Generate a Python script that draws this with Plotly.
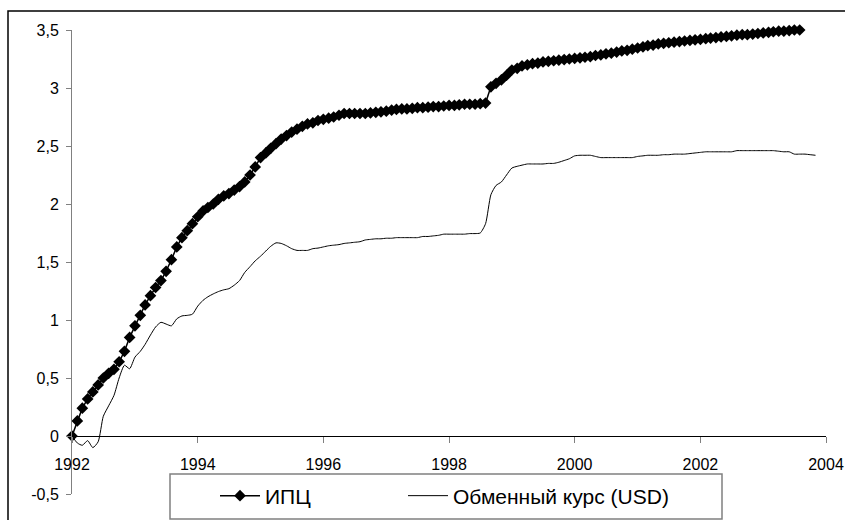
import pandas as pd
import plotly.graph_objects as go

# log-scale indices, monthly from Jan 1992
cpi = [0, 0.13, 0.24, 0.32, 0.38, 0.44, 0.50, 0.54, 0.575, 0.64, 0.73, 0.85,
       0.95, 1.04, 1.13, 1.21, 1.28, 1.34, 1.42, 1.52, 1.63, 1.71, 1.77, 1.83,
       1.89, 1.94, 1.97, 2.00, 2.04, 2.07, 2.09, 2.12, 2.15, 2.19, 2.25, 2.32,
       2.40, 2.44, 2.48, 2.52, 2.56, 2.59, 2.62, 2.645, 2.67, 2.69, 2.70, 2.72,
       2.73, 2.74, 2.75, 2.765, 2.78, 2.78, 2.78, 2.78, 2.78, 2.785, 2.79, 2.795,
       2.80, 2.81, 2.815, 2.82, 2.82, 2.825, 2.83, 2.83, 2.835, 2.84, 2.84, 2.845,
       2.85, 2.85, 2.855, 2.86, 2.86, 2.86, 2.865, 2.87, 3.01, 3.04, 3.07, 3.11,
       3.155, 3.17, 3.19, 3.20, 3.21, 3.215, 3.225, 3.23, 3.235, 3.24, 3.245, 3.25,
       3.255, 3.26, 3.265, 3.27, 3.28, 3.285, 3.295, 3.30, 3.31, 3.32, 3.325, 3.335,
       3.345, 3.355, 3.365, 3.37, 3.38, 3.385, 3.39, 3.395, 3.40, 3.405, 3.41, 3.415,
       3.42, 3.425, 3.43, 3.435, 3.44, 3.445, 3.45, 3.455, 3.46, 3.46, 3.465, 3.47,
       3.475, 3.48, 3.485, 3.49, 3.49, 3.495, 3.50, 3.50]

usd = [0, -0.06, -0.08, -0.04, -0.10, -0.05, 0.17, 0.26, 0.35, 0.50, 0.61, 0.58,
       0.68, 0.73, 0.79, 0.87, 0.94, 0.98, 0.965, 0.95, 1.01, 1.035, 1.04, 1.05,
       1.12, 1.17, 1.20, 1.225, 1.245, 1.26, 1.27, 1.30, 1.34, 1.41, 1.46, 1.51,
       1.55, 1.595, 1.635, 1.665, 1.66, 1.64, 1.615, 1.60, 1.60, 1.60, 1.615, 1.62,
       1.63, 1.64, 1.645, 1.65, 1.66, 1.665, 1.67, 1.675, 1.69, 1.695, 1.70, 1.70,
       1.705, 1.705, 1.71, 1.71, 1.71, 1.71, 1.71, 1.72, 1.72, 1.725, 1.73, 1.74,
       1.74, 1.74, 1.74, 1.74, 1.745, 1.745, 1.75, 1.83, 2.08, 2.16, 2.19, 2.25,
       2.31, 2.325, 2.335, 2.345, 2.345, 2.345, 2.345, 2.35, 2.35, 2.36, 2.375, 2.39,
       2.415, 2.42, 2.42, 2.42, 2.41, 2.40, 2.40, 2.40, 2.40, 2.40, 2.40, 2.40,
       2.41, 2.415, 2.42, 2.42, 2.42, 2.425, 2.425, 2.43, 2.43, 2.43, 2.435, 2.44,
       2.445, 2.45, 2.45, 2.45, 2.45, 2.45, 2.45, 2.46, 2.46, 2.46, 2.46, 2.46,
       2.46, 2.46, 2.46, 2.455, 2.45, 2.45, 2.43, 2.43, 2.43, 2.425, 2.42]

x_ticks = [1992, 1994, 1996, 1998, 2000, 2002, 2004]
y_ticks = [-0.5, 0, 0.5, 1, 1.5, 2, 2.5, 3, 3.5]
y_labels = ["-0,5", "0", "0,5", "1", "1,5", "2", "2,5", "3", "3,5"]

months_cpi = pd.date_range("1992-01-01", periods=len(cpi), freq="MS")
months_usd = pd.date_range("1992-01-01", periods=len(usd), freq="MS")

font = "Arial, Liberation Sans, sans-serif"

fig = go.Figure()
fig.add_trace(go.Scatter(
    name="ИПЦ",
    x=months_cpi, y=cpi,
    mode="lines+markers",
    line=dict(color="black", width=1.5),
    marker=dict(symbol="diamond", size=9, color="black"),
    cliponaxis=False,
    legend="legend",
))
fig.add_trace(go.Scatter(
    name="Обменный курс (USD)",
    x=months_usd, y=usd,
    mode="lines",
    line=dict(color="black", width=1, shape="spline", smoothing=0.6),
    legend="legend2",
))

# plot area: x 72..826 px, y 30..494 px
def px_x(p):
    return (p - 72) / 754

def px_y(p):
    return (494 - p) / 464

leg = dict(
    orientation="h", xanchor="left", yanchor="middle",
    y=px_y(496), font=dict(size=21), itemwidth=40,
    bgcolor="rgba(0,0,0,0)", borderwidth=0,
)

fig.update_layout(
    width=845, height=520,
    margin=dict(l=72, r=19, t=30, b=26, autoexpand=False),
    paper_bgcolor="white", plot_bgcolor="white",
    font=dict(family=font, size=16, color="black"),
    showlegend=True,
    legend=dict(leg, x=px_x(215)),
    legend2=dict(leg, x=px_x(403)),
    xaxis=dict(
        type="date",
        range=["1992-01-01", "2004-01-01"],
        tickvals=[pd.Timestamp(f"{y}-01-01") for y in x_ticks],
        ticktext=[str(y) for y in x_ticks],
        anchor="free", position=0.125,
        showline=True, linecolor="black", linewidth=1,
        ticks="outside", ticklen=6, tickcolor="#808080",
        ticklabelstandoff=8,
        showgrid=False, zeroline=False,
    ),
    yaxis=dict(
        range=[-0.5, 3.5],
        tickvals=y_ticks, ticktext=y_labels,
        showline=True, linecolor="#808080", linewidth=1,
        ticks="outside", ticklen=5, tickcolor="#808080",
        ticklabelstandoff=4,
        showgrid=False, zeroline=False,
    ),
    shapes=[
        # outer chart frame
        dict(type="rect", xref="paper", yref="paper",
             x0=px_x(8), x1=px_x(900), y0=px_y(560), y1=px_y(11),
             line=dict(color="black", width=1.5)),
        # legend box
        dict(type="rect", xref="paper", yref="paper",
             x0=px_x(170), x1=px_x(722), y0=px_y(519), y1=px_y(474),
             line=dict(color="#808080", width=1.5), fillcolor="white",
             layer="below"),
    ],
)

fig.write_html("out.html", config={"displayModeBar": False},
               post_script="document.body.style.margin='0px';")
